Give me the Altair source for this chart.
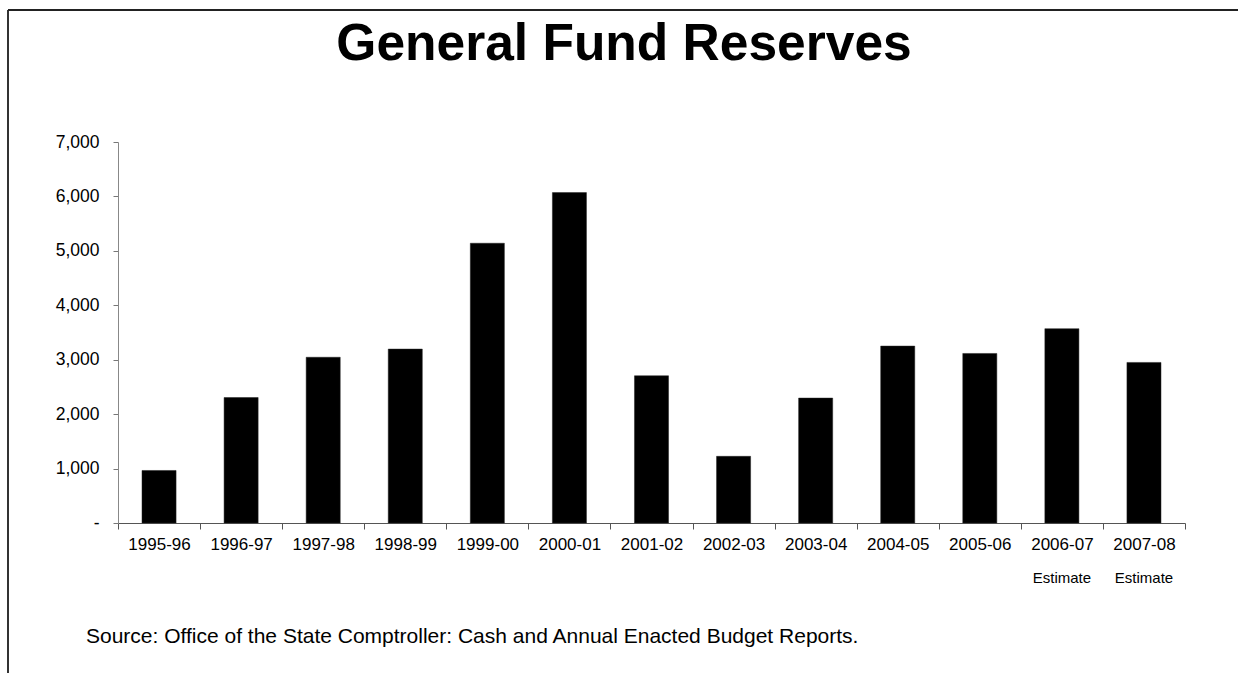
import altair as alt
import pandas as pd

categories = ["1995-96", "1996-97", "1997-98", "1998-99", "1999-00", "2000-01",
              "2001-02", "2002-03", "2003-04", "2004-05", "2005-06", "2006-07", "2007-08"]
reserves = [965, 2305, 3045, 3195, 5140, 6070, 2705, 1225, 2295, 3250, 3115, 3570, 2950]
estimate_years = ["2006-07", "2007-08"]
estimate_label = "Estimate"
y_ticks = [0, 1000, 2000, 3000, 4000, 5000, 6000, 7000]
title_text = "General Fund Reserves"
source_text = "Source: Office of the State Comptroller: Cash and Annual Enacted Budget Reports."

W, H = 1067, 381
FONT = "Liberation Sans"

df = pd.DataFrame({"year": categories, "value": reserves})
est_df = pd.DataFrame({"year": estimate_years, "label": [estimate_label] * len(estimate_years)})

xscale = alt.Scale(domain=categories, paddingInner=0, paddingOuter=0)

bars = alt.Chart(df).mark_bar(color="black", stroke="#222", strokeWidth=0.5,
                              width=alt.RelativeBandSize(0.415)).encode(
    x=alt.X("year:N", sort=categories, scale=xscale, title=None,
            axis=alt.Axis(labelAngle=0, labelFontSize=17, labelFont=FONT, labelColor="black",
                          tickBand="extent", tickSize=6, tickColor="#555", domainColor="#555",
                          labelPadding=7, grid=False)),
    y=alt.Y("value:Q", scale=alt.Scale(domain=[0, 7000], nice=False), title=None,
            axis=alt.Axis(values=y_ticks, format=",.0f",
                          labelExpr="datum.value == 0 ? '-\u00a0\u00a0\u00a0\u00a0\u00a0' : datum.label",
                          labelFontSize=17.5, labelFont=FONT, labelColor="black",
                          tickSize=5, tickColor="#777", domainColor="#888",
                          labelPadding=14, grid=False)),
)

est = alt.Chart(est_df).mark_text(fontSize=15, font=FONT, color="black", baseline="middle").encode(
    x=alt.X("year:N", sort=categories, scale=xscale),
    y=alt.value(436),
    text="label:N",
)

frame_df = pd.DataFrame({"k": [1]})
left_line = alt.Chart(frame_df).mark_rule(color="#333", strokeWidth=2).encode(
    x=alt.value(-110), y=alt.value(-132), y2=alt.value(531)
)
top_line = alt.Chart(frame_df).mark_rule(color="#222", strokeWidth=2).encode(
    x=alt.value(-110), x2=alt.value(1120), y=alt.value(-132)
)
title = alt.Chart(pd.DataFrame({"t": [title_text]})).mark_text(
    fontSize=51.5, font=FONT, fontWeight="bold", color="black", align="center", baseline="middle"
).encode(x=alt.value(506), y=alt.value(-97), text="t:N")
source = alt.Chart(pd.DataFrame({"t": [source_text]})).mark_text(
    fontSize=21, font=FONT, color="black", align="left", baseline="alphabetic"
).encode(x=alt.value(-32), y=alt.value(501), text="t:N")

chart = alt.layer(bars, est, left_line, top_line, title, source).properties(
    width=W, height=H,
    background="white",
    padding={"left": 7, "top": 9, "right": 0, "bottom": 0},
).configure_view(stroke=None)

chart.save("out.html", embed_options={"renderer": "svg", "actions": False})
